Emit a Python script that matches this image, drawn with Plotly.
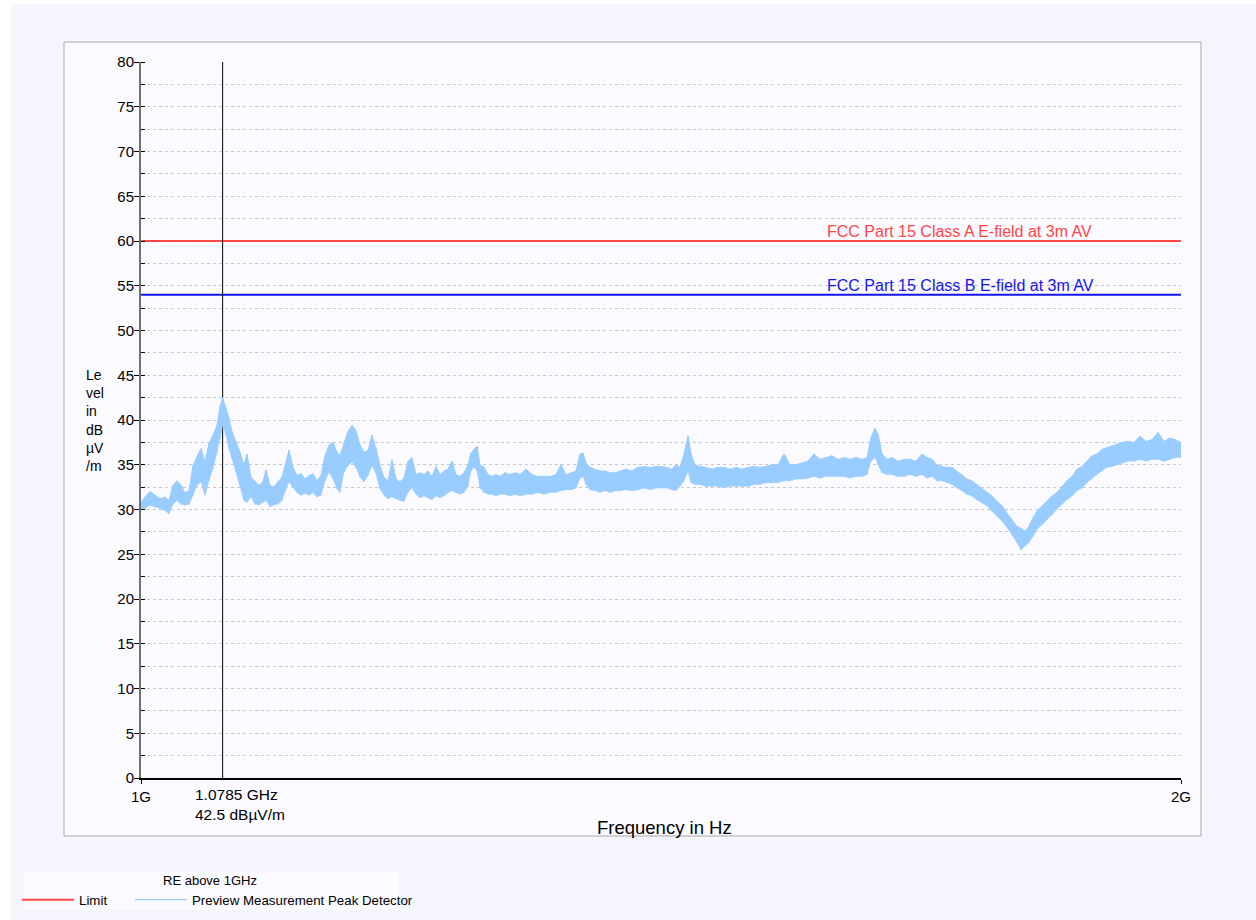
import plotly.graph_objects as go

# ---- measurement data (peak detector sweep, envelope per frequency bin) ----
freq_mhz = [
    1000.0, 1003.8, 1008.7, 1013.5, 1018.3, 1023.1, 1026.9, 1030.8, 1034.6, 1038.5,
    1042.3, 1046.2, 1050.0, 1053.8, 1057.7, 1061.5, 1065.4, 1069.2, 1073.1, 1076.0,
    1078.5, 1081.7, 1084.6, 1087.5, 1091.3, 1095.2, 1099.0, 1101.9, 1105.8, 1109.6,
    1113.5, 1117.3, 1120.2, 1124.0, 1127.9, 1131.7, 1135.6, 1139.4, 1142.3, 1146.2,
    1150.0, 1153.8, 1157.7, 1161.5, 1165.4, 1169.2, 1173.1, 1176.9, 1180.8, 1184.6,
    1188.5, 1191.3, 1195.2, 1199.0, 1202.9, 1206.7, 1210.6, 1214.4, 1218.3, 1222.1,
    1226.0, 1229.8, 1233.7, 1237.5, 1241.3, 1245.2, 1249.0, 1252.9, 1256.7, 1260.6,
    1264.4, 1268.3, 1272.1, 1276.0, 1279.8, 1283.7, 1287.5, 1291.3, 1295.2, 1299.0,
    1302.9, 1306.7, 1310.6, 1314.4, 1317.3, 1320.2, 1323.1, 1326.0, 1329.8, 1333.7,
    1337.5, 1341.3, 1345.2, 1350.0, 1354.8, 1359.6, 1364.4, 1370.2, 1376.0, 1381.7,
    1387.5, 1393.3, 1399.0, 1403.8, 1408.7, 1413.5, 1418.3, 1422.1, 1425.0, 1427.9,
    1431.7, 1436.5, 1441.3, 1446.2, 1451.0, 1455.8, 1460.6, 1466.3, 1472.1, 1477.9,
    1483.7, 1489.4, 1495.2, 1501.0, 1505.8, 1510.6, 1514.4, 1518.3, 1522.1, 1526.0,
    1528.8, 1532.7, 1537.5, 1543.3, 1549.0, 1554.8, 1560.6, 1566.3, 1572.1, 1577.9,
    1583.7, 1589.4, 1595.2, 1601.0, 1606.7, 1612.5, 1618.3, 1624.0, 1629.8, 1635.6,
    1641.3, 1647.1, 1652.9, 1658.7, 1664.4, 1670.2, 1676.0, 1681.7, 1687.5, 1693.3,
    1698.1, 1701.9, 1705.8, 1708.7, 1712.5, 1717.3, 1722.1, 1727.9, 1733.7, 1739.4,
    1745.2, 1751.0, 1755.8, 1760.6, 1765.4, 1770.2, 1775.0, 1779.8, 1784.6, 1789.4,
    1794.2, 1799.0, 1803.8, 1808.7, 1813.5, 1818.3, 1823.1, 1827.9, 1832.7, 1837.5,
    1842.3, 1846.2, 1850.0, 1853.8, 1857.7, 1861.5, 1866.3, 1871.2, 1876.0, 1880.8,
    1885.6, 1890.4, 1895.2, 1900.0, 1904.8, 1909.6, 1914.4, 1919.2, 1924.0, 1928.8,
    1933.7, 1938.5, 1943.3, 1949.0, 1954.8, 1960.6, 1966.3, 1972.1, 1977.9, 1983.7,
    1989.4, 1994.2, 2000.0,
]

level_lo = [
    29.9, 30.1, 30.5, 30.3, 30.1, 29.9, 29.5, 30.6, 31.0, 30.6,
    30.5, 30.6, 31.6, 32.7, 33.1, 31.6, 33.2, 34.6, 36.4, 37.9,
    39.4, 38.3, 36.8, 35.7, 34.2, 32.7, 31.0, 30.8, 31.4, 30.6,
    30.5, 30.8, 31.0, 30.3, 30.5, 30.6, 31.0, 32.3, 33.1, 32.5,
    31.9, 31.6, 31.8, 31.6, 31.9, 31.4, 31.6, 33.2, 34.2, 33.4,
    32.3, 31.9, 34.2, 34.9, 35.3, 34.7, 33.6, 33.1, 33.8, 34.9,
    34.0, 32.3, 31.6, 31.2, 31.4, 31.2, 31.0, 30.9, 31.9, 32.4,
    31.7, 31.3, 31.5, 31.3, 31.1, 31.5, 31.3, 31.5, 31.9, 32.1,
    31.9, 31.7, 31.9, 32.6, 34.3, 34.7, 34.3, 32.4, 31.9, 31.7,
    31.7, 31.5, 31.7, 31.7, 31.5, 31.7, 31.5, 31.7, 31.7, 31.9,
    31.7, 31.9, 31.9, 32.1, 32.2, 32.2, 32.4, 33.5, 33.7, 32.8,
    32.2, 32.1, 31.9, 32.1, 31.9, 32.1, 32.1, 32.2, 32.1, 32.2,
    32.4, 32.2, 32.4, 32.4, 32.4, 32.2, 32.1, 32.6, 33.2, 34.3,
    33.0, 32.8, 32.8, 32.6, 32.6, 32.6, 32.4, 32.6, 32.6, 32.6,
    32.6, 32.8, 32.8, 33.0, 33.0, 33.0, 33.2, 33.2, 33.4, 33.4,
    33.5, 33.7, 33.5, 33.7, 33.7, 33.7, 33.7, 33.5, 33.7, 33.7,
    33.9, 35.4, 35.8, 35.0, 34.1, 33.9, 33.9, 33.7, 33.7, 33.9,
    33.7, 33.9, 33.5, 33.7, 33.2, 33.2, 33.0, 32.8, 32.4, 32.1,
    31.7, 31.5, 31.1, 30.7, 30.4, 29.8, 29.3, 28.7, 28.0, 27.2,
    26.3, 25.5, 25.9, 26.3, 27.0, 27.8, 28.3, 28.9, 29.4, 30.0,
    30.6, 31.1, 31.5, 32.1, 32.4, 33.0, 33.5, 33.9, 34.3, 34.7,
    34.8, 35.0, 35.2, 35.4, 35.4, 35.6, 35.4, 35.6, 35.6, 35.4,
    35.6, 35.8, 35.8,
]

level_hi = [
    30.8, 31.4, 32.0, 31.6, 31.2, 31.4, 31.0, 32.7, 33.2, 32.7,
    31.9, 32.1, 34.9, 35.9, 36.8, 35.3, 37.4, 38.3, 39.4, 41.5,
    42.5, 41.3, 40.2, 38.7, 37.5, 36.4, 34.9, 36.2, 33.6, 33.1,
    32.7, 33.1, 34.4, 32.7, 32.5, 33.1, 33.6, 35.3, 36.6, 34.7,
    33.8, 34.0, 33.4, 33.8, 34.0, 33.2, 33.8, 36.0, 37.2, 37.5,
    36.4, 36.0, 37.5, 38.7, 39.4, 38.8, 37.2, 36.4, 36.6, 38.3,
    36.8, 34.9, 33.6, 33.2, 35.5, 33.4, 33.1, 33.5, 35.4, 35.8,
    33.9, 34.1, 33.9, 34.3, 33.7, 34.8, 33.9, 34.3, 34.5, 35.4,
    33.9, 33.7, 34.1, 35.0, 36.3, 36.7, 37.1, 35.0, 34.7, 33.9,
    33.7, 33.9, 33.7, 34.1, 33.9, 34.1, 33.9, 34.5, 33.9, 33.7,
    33.7, 33.7, 33.9, 35.0, 33.9, 34.1, 34.3, 36.2, 36.3, 35.2,
    34.7, 34.5, 34.3, 34.3, 34.1, 34.1, 34.3, 34.5, 34.3, 34.7,
    34.8, 34.7, 34.8, 34.8, 34.7, 34.5, 35.0, 34.7, 36.2, 38.2,
    36.2, 35.0, 34.8, 34.7, 34.5, 34.7, 34.7, 34.5, 34.7, 34.5,
    34.7, 34.8, 34.7, 34.8, 35.0, 35.0, 36.2, 35.0, 35.0, 35.2,
    35.4, 36.2, 35.6, 35.8, 36.0, 35.6, 35.8, 35.6, 35.8, 35.6,
    35.8, 38.0, 39.1, 38.4, 36.2, 35.6, 35.8, 35.4, 35.6, 35.6,
    35.4, 36.2, 35.8, 35.6, 35.0, 34.8, 34.7, 34.7, 34.3, 33.9,
    33.4, 33.2, 32.8, 32.4, 31.9, 31.5, 30.9, 30.4, 29.6, 28.9,
    28.1, 27.9, 27.6, 28.1, 29.1, 29.8, 30.4, 30.9, 31.5, 31.9,
    32.6, 33.2, 33.7, 34.5, 34.8, 35.4, 36.0, 36.2, 36.7, 36.9,
    37.1, 37.3, 37.5, 37.6, 37.5, 38.2, 37.6, 37.8, 38.6, 37.6,
    38.0, 37.8, 37.5,
]

# ---- limits and marker ----
LIMIT_A = 60.0
LIMIT_B = 54.0
LIMIT_A_NAME = "FCC Part 15 Class A E-field at 3m AV"
LIMIT_B_NAME = "FCC Part 15 Class B E-field at 3m AV"
MARKER_MHZ = 1078.5
MARKER_LEVEL = 42.5
F_START_HZ, F_STOP_HZ = 1e9, 2e9
y_ticks = list(range(0, 81, 5))
x_tick_vals = [1e9, 2e9]
x_tick_text = ["1G", "2G"]
LEGEND_TITLE = "RE above 1GHz"

RED = "#ff4646"
BLUE = "#1414f0"
TRACE = "#99ccff"
FONT = "Arial, 'Liberation Sans', sans-serif"

# plot area in pixels (used to place the frame around it)
W, H = 1256, 920
L, R, T, B = 141, 75, 62, 142
PW, PH = W - L - R, H - T - B


def px_x(px):
    return (px - L) / PW


def px_y(py):
    return (H - B - py) / PH


f_hz = [f * 1e6 for f in freq_mhz]

# zig-zag between the envelope values of every bin -> noisy peak trace look
zz_x, zz_y = [], []
for f, lo, hi in zip(f_hz, level_lo, level_hi):
    zz_x += [f, f]
    zz_y += [lo, hi]

fig = go.Figure()

fig.add_trace(go.Scatter(
    x=[F_START_HZ, F_STOP_HZ], y=[LIMIT_A, LIMIT_A], mode="lines",
    line=dict(color=RED, width=2), name="Limit", showlegend=True,
    legend="legend", hoverinfo="skip"))
fig.add_trace(go.Scatter(
    x=[F_START_HZ, F_STOP_HZ], y=[LIMIT_B, LIMIT_B], mode="lines",
    line=dict(color=BLUE, width=2), name=LIMIT_B_NAME, showlegend=False,
    hoverinfo="skip"))

# marker line
fig.add_trace(go.Scatter(
    x=[MARKER_MHZ * 1e6, MARKER_MHZ * 1e6], y=[0, 80], mode="lines",
    line=dict(color="black", width=1), showlegend=False, hoverinfo="skip"))

# envelope band
fig.add_trace(go.Scatter(
    x=f_hz, y=level_lo, mode="lines", line=dict(color=TRACE, width=0.5),
    showlegend=False, hoverinfo="skip"))
fig.add_trace(go.Scatter(
    x=f_hz, y=level_hi, mode="lines", line=dict(color=TRACE, width=1),
    fill="tonexty", fillcolor=TRACE, showlegend=False, hoverinfo="skip"))
fig.add_trace(go.Scatter(
    x=zz_x, y=zz_y, mode="lines", line=dict(color=TRACE, width=1.2),
    name="Preview Measurement Peak Detector", showlegend=True,
    legend="legend2"))

shapes = [
    # outer tinted page
    dict(type="rect", xref="paper", yref="paper",
         x0=px_x(11), x1=px_x(W + 2), y0=px_y(H + 2), y1=px_y(4),
         fillcolor="#f4f5fd", line=dict(width=0), layer="below"),
    # chart frame
    dict(type="rect", xref="paper", yref="paper",
         x0=px_x(64), x1=px_x(1201), y0=px_y(836), y1=px_y(42),
         fillcolor="#fafaff", line=dict(color="#aaaaaa", width=1), layer="below"),
    # legend panel
    dict(type="rect", xref="paper", yref="paper",
         x0=px_x(24), x1=px_x(399), y0=px_y(910), y1=px_y(872),
         fillcolor="#fafaff", line=dict(width=0), layer="below"),
]

annotations = [
    dict(x=1.6577e9, y=LIMIT_A, xref="x", yref="y", text=LIMIT_A_NAME,
         showarrow=False, xanchor="left", yanchor="bottom", yshift=-1,
         font=dict(color=RED, size=16, family=FONT)),
    dict(x=1.6577e9, y=LIMIT_B, xref="x", yref="y", text=LIMIT_B_NAME,
         showarrow=False, xanchor="left", yanchor="bottom", yshift=-1,
         font=dict(color=BLUE, size=16, family=FONT)),
    dict(x=MARKER_MHZ * 1e6, y=px_y(805), xref="x", yref="paper",
         text=f"{MARKER_MHZ / 1000:.4f} GHz<br>{MARKER_LEVEL:.1f} dBµV/m",
         showarrow=False, xanchor="left", yanchor="middle", align="left",
         xshift=-30, font=dict(color="black", size=15.5, family=FONT)),
    dict(x=px_x(84), y=px_y(420), xref="paper", yref="paper",
         text="Le<br>vel<br>in<br>dB<br>µV<br>/m", showarrow=False,
         xanchor="left", yanchor="middle", align="left",
         font=dict(color="black", size=14, family=FONT)),
    dict(x=px_x(664), y=px_y(827), xref="paper", yref="paper",
         text="Frequency in Hz", showarrow=False, xanchor="center",
         yanchor="middle", font=dict(color="black", size=18.5, family=FONT)),
    dict(x=px_x(210), y=px_y(880), xref="paper", yref="paper",
         text=LEGEND_TITLE, showarrow=False, xanchor="center",
         yanchor="middle", font=dict(color="black", size=13, family=FONT)),
]

legend_common = dict(
    orientation="h", yanchor="middle", xanchor="left",
    bgcolor="rgba(0,0,0,0)", borderwidth=0, traceorder="normal",
    font=dict(size=13.3, family=FONT, color="black"), itemwidth=52,
)

fig.update_layout(
    width=W, height=H,
    margin=dict(l=L, r=R, t=T, b=B, pad=0, autoexpand=False),
    paper_bgcolor="white",
    plot_bgcolor="rgba(0,0,0,0)",
    font=dict(family=FONT, size=15, color="black"),
    shapes=shapes,
    annotations=annotations,
    showlegend=True,
    legend=dict(x=px_x(17), y=px_y(900), **legend_common),
    legend2=dict(x=px_x(130), y=px_y(900), **legend_common),
    xaxis=dict(
        range=[F_START_HZ, F_STOP_HZ], tickvals=x_tick_vals, ticktext=x_tick_text,
        showline=True, linecolor="black", linewidth=1.5,
        ticks="outside", ticklen=4, tickcolor="black",
        showgrid=True, gridcolor="#c8c8c8", griddash="dot", gridwidth=1,
        zeroline=False, tickfont=dict(size=15, family=FONT),
    ),
    yaxis=dict(
        range=[0, 80], tickvals=y_ticks,
        showline=True, linecolor="#707070", linewidth=2,
        ticks="outside", ticklen=5, tickcolor="black", ticklabelstandoff=-3,
        showgrid=True, gridcolor="#c8c8c8", griddash="dot", gridwidth=1,
        minor=dict(dtick=2.5, showgrid=True, gridcolor="#c8c8c8", griddash="dot",
                   ticks="inside", ticklen=4, tickcolor="black"),
        zeroline=False, tickfont=dict(size=15, family=FONT),
    ),
)

fig.write_html("out.html")
